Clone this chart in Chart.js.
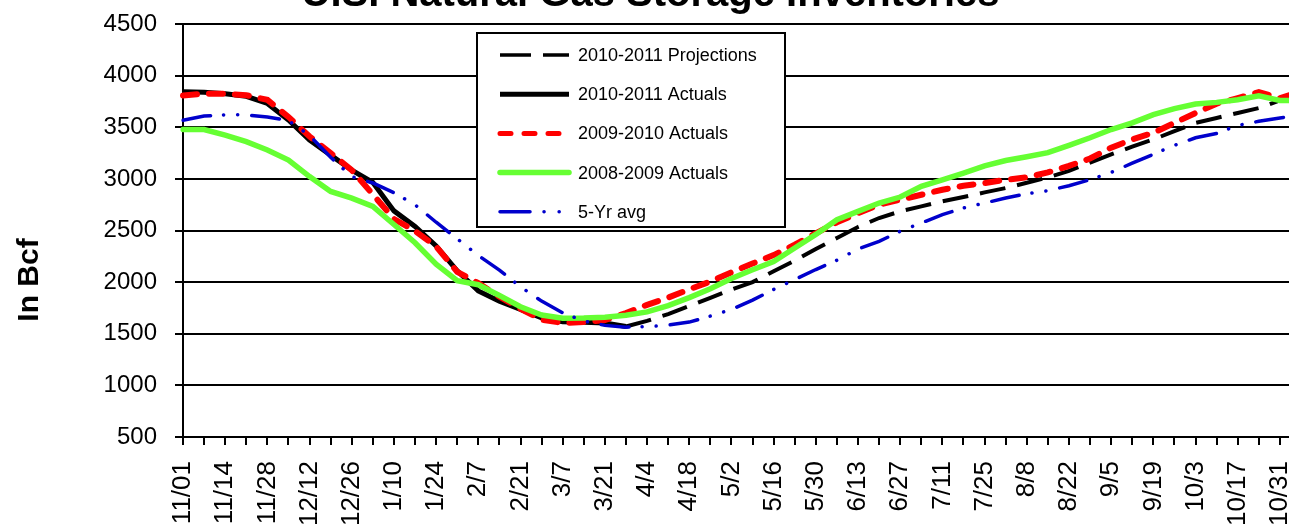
<!DOCTYPE html>
<html>
<head>
<meta charset="utf-8">
<title>U.S. Natural Gas Storage Inventories</title>
<script src="https://cdn.jsdelivr.net/npm/chart.js@4.4.1/dist/chart.umd.min.js"></script>
<style>
  html, body { margin: 0; padding: 0; background: #fff; overflow: hidden; }
  #wrap { position: absolute; left: 0; top: -29px; width: 1301px; height: 598px; }
</style>
</head>
<body>
<div id="wrap"><canvas id="grafico"></canvas></div>
<script>
// semanas (eixo x) - so metade aparece como rotulo
const semanas = ['11/01', '11/07', '11/14', '11/21', '11/28', '12/05', '12/12', '12/19', '12/26', '1/02',
  '1/10', '1/17', '1/24', '1/31', '2/7', '2/14', '2/21', '2/28', '3/7', '3/14',
  '3/21', '3/28', '4/4', '4/11', '4/18', '4/25', '5/2', '5/9', '5/16', '5/23',
  '5/30', '6/6', '6/13', '6/20', '6/27', '7/4', '7/11', '7/18', '7/25', '8/1',
  '8/8', '8/15', '8/22', '8/29', '9/5', '9/12', '9/19', '9/26', '10/3', '10/10',
  '10/17', '10/24', '10/31', '11/07'];

const yTicks = [500, 1000, 1500, 2000, 2500, 3000, 3500, 4000, 4500];

// valores em Bcf
const projecoes1011 = [null, null, null, null, null, null, null, null, null, null,
  null, null, null, null, null, null, null, null, null, null,
  null, 1570, 1625, 1690, 1768, 1848, 1929, 2000, 2106, 2209,
  2321, 2428, 2534, 2621, 2685, 2734, 2782, 2824, 2869, 2911,
  2962, 3014, 3078, 3158, 3238, 3312, 3382, 3462, 3542, 3590,
  3638, 3686, 3760, 3760];

const atuais1011 = [3845, 3840, 3825, 3800, 3730, 3570, 3375, 3230, 3085, 2965,
  2690, 2540, 2350, 2110, 1915, 1815, 1735, 1655, 1615, 1612,
  1605, 1570];

const atuais0910 = [3808, 3825, 3825, 3810, 3765, 3600, 3410, 3250, 3085, 2850,
  2612, 2495, 2345, 2100, 1990, 1860, 1742, 1635, 1605, 1613,
  1632, 1700, 1780, 1850, 1930, 2005, 2095, 2180, 2262, 2362,
  2472, 2579, 2669, 2750, 2798, 2846, 2895, 2933, 2959, 2991,
  3015, 3062, 3126, 3197, 3302, 3382, 3446, 3542, 3638, 3728,
  3782, 3840, 3782, 3845];

const atuais0809 = [3478, 3478, 3423, 3360, 3280, 3183, 3022, 2878, 2814, 2734,
  2558, 2381, 2173, 2015, 1975, 1870, 1762, 1682, 1650, 1652,
  1660, 1680, 1712, 1772, 1850, 1935, 2035, 2120, 2200, 2330,
  2462, 2605, 2685, 2766, 2824, 2927, 2991, 3056, 3126, 3178,
  3215, 3254, 3325, 3398, 3478, 3542, 3622, 3680, 3725, 3741,
  3766, 3805, 3760, 3760];

const media5anos = [3567, 3609, 3620, 3620, 3600, 3565, 3420, 3210, 3022, 2960,
  2865, 2750, 2580, 2420, 2258, 2116, 1955, 1816, 1703, 1623,
  1581, 1564, 1568, 1584, 1613, 1671, 1735, 1826, 1929, 2025,
  2122, 2212, 2321, 2395, 2492, 2573, 2653, 2718, 2766, 2814,
  2856, 2886, 2934, 2992, 3062, 3152, 3238, 3325, 3398, 3440,
  3517, 3558, 3590, 3622];

Chart.defaults.font.family = '"Liberation Sans", Arial, sans-serif';
Chart.defaults.color = '#000';

// titulo do eixo y (fica mais para baixo que o centro, como no original)
const tituloEixoY = {
  id: 'tituloEixoY',
  afterDraw(chart) {
    const ctx = chart.ctx;
    ctx.save();
    ctx.translate(30, chart.chartArea.top + 256);
    ctx.rotate(-Math.PI / 2);
    ctx.font = 'bold 30px "Liberation Sans", Arial, sans-serif';
    ctx.fillStyle = '#000';
    ctx.textAlign = 'center';
    ctx.textBaseline = 'middle';
    ctx.fillText('In Bcf', 0, 0);
    ctx.restore();
  }
};

// legenda dentro da area do grafico
const legendaCaixa = {
  id: 'legendaCaixa',
  afterDraw(chart) {
    const ctx = chart.ctx;
    const area = chart.chartArea;
    const x0 = area.left + 294;
    const y0 = area.top + 9;
    ctx.save();
    ctx.fillStyle = '#fff';
    ctx.fillRect(x0, y0, 308, 194);
    ctx.lineWidth = 2;
    ctx.strokeStyle = '#000';
    ctx.strokeRect(x0, y0, 308, 194);
    chart.data.datasets.forEach(function(ds, i) {
      const y = y0 + 22 + i * 39.2;
      ctx.beginPath();
      ctx.setLineDash(ds.legendDash || ds.borderDash || []);
      ctx.lineCap = ds.borderCapStyle || 'butt';
      ctx.lineWidth = ds.legendWidth;
      ctx.strokeStyle = ds.borderColor;
      ctx.moveTo(x0 + 23, y);
      ctx.lineTo(x0 + 92, y);
      ctx.stroke();
      ctx.setLineDash([]);
      ctx.font = '18px "Liberation Sans", Arial, sans-serif';
      ctx.fillStyle = '#000';
      ctx.textAlign = 'left';
      ctx.textBaseline = 'middle';
      ctx.fillText(ds.label, x0 + 101, y + 1);
    });
    ctx.restore();
  }
};

const ctx = document.getElementById('grafico').getContext('2d');

const grafico = new Chart(ctx, {
  type: 'line',
  data: {
    labels: semanas,
    datasets: [{
      label: '2010-2011 Projections',
      data: projecoes1011,
      borderColor: '#000000',
      borderWidth: 4,
      borderDash: [26, 12],
      legendDash: [31, 12],
      legendWidth: 3.5,
      order: 5
    }, {
      label: '2010-2011 Actuals',
      data: atuais1011,
      borderColor: '#000000',
      borderWidth: 5,
      legendWidth: 5,
      order: 4
    }, {
      label: '2009-2010 Actuals',
      data: atuais0910,
      borderColor: '#ff0000',
      borderWidth: 6,
      borderDash: [14, 12],
      legendDash: [11, 13],
      borderCapStyle: 'round',
      legendWidth: 5,
      order: 3
    }, {
      label: '2008-2009 Actuals',
      data: atuais0809,
      borderColor: '#66ff33',
      borderWidth: 5.5,
      borderCapStyle: 'round',
      legendWidth: 5.5,
      order: 2
    }, {
      label: '5-Yr avg',
      data: media5anos,
      borderColor: '#0000cc',
      borderWidth: 3.5,
      borderDash: [28, 13, 0.1, 14, 0.1, 14],
      legendDash: [30, 14, 0.1, 15, 0.1, 15],
      borderCapStyle: 'round',
      legendWidth: 3.5,
      order: 1
    }]
  },
  options: {
    responsive: true,
    maintainAspectRatio: false,
    animation: false,
    layout: { padding: 0 },
    elements: {
      point: { radius: 0 },
      line: { tension: 0, fill: false }
    },
    plugins: {
      legend: { display: false },
      tooltip: { enabled: false },
      title: {
        display: true,
        text: 'U.S. Natural Gas Storage Inventories',
        font: { size: 40, weight: 'bold' },
        color: '#000',
        padding: { top: 0, bottom: 5 }
      }
    },
    scales: {
      x: {
        offset: false,
        grid: { drawOnChartArea: false, color: '#000', lineWidth: 2, tickLength: 8 },
        border: { color: '#000', width: 2 },
        ticks: {
          autoSkip: false,
          maxRotation: 90,
          minRotation: 90,
          padding: 16,
          font: { size: 26 },
          color: '#000',
          callback: function(valor, i) {
            return i % 2 === 0 ? semanas[i] : '';
          }
        },
        afterFit: function(scale) {
          scale.height = 132;
          scale.paddingLeft = 0;
          scale.paddingRight = 0;
        }
      },
      y: {
        min: yTicks[0],
        max: yTicks[yTicks.length - 1],
        afterBuildTicks: function(scale) {
          scale.ticks = yTicks.map(function(v) { return { value: v }; });
        },
        grid: { color: '#000', lineWidth: 2, tickLength: 8 },
        border: { color: '#000', width: 2 },
        ticks: {
          font: { size: 24 },
          color: '#000',
          padding: 18,
          callback: function(valor) { return String(valor); }
        },
        afterFit: function(scale) {
          scale.width = 183;
        }
      }
    }
  },
  plugins: [tituloEixoY, legendaCaixa]
});
</script>
</body>
</html>
